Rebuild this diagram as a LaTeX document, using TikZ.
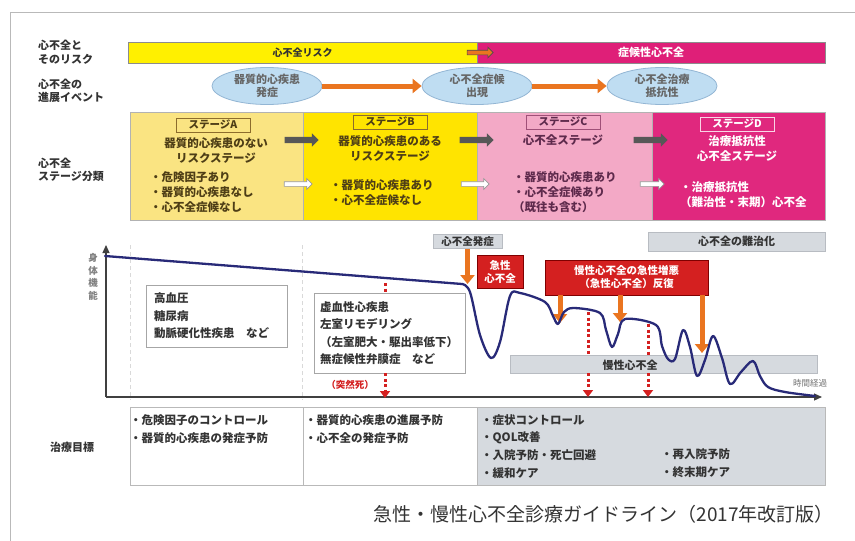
\documentclass[tikz,border=0pt]{standalone}
\usepackage{fontspec}
\setmainfont{Noto Sans CJK JP}
\usetikzlibrary{shapes.geometric,shapes.arrows,arrows.meta}
\definecolor{txt}{HTML}{333333}
\definecolor{barY}{HTML}{FFF000}
\definecolor{barM}{HTML}{DF1F78}
\definecolor{stA}{HTML}{FAE482}
\definecolor{stB}{HTML}{FFE400}
\definecolor{stC}{HTML}{F3A9C6}
\definecolor{stD}{HTML}{E0287E}
\definecolor{ellF}{HTML}{BFDDF2}
\definecolor{ellD}{HTML}{93B6D4}
\definecolor{orng}{HTML}{EA7520}
\definecolor{darkarr}{HTML}{575757}
\definecolor{brn}{HTML}{4E3E16}
\definecolor{brnbox}{HTML}{8C6C2C}
\definecolor{pur}{HTML}{5E2A4C}
\definecolor{purbox}{HTML}{A05078}
\definecolor{navy}{HTML}{282A78}
\definecolor{redb}{HTML}{D42020}
\definecolor{gfill}{HTML}{D6DADF}
\definecolor{gline}{HTML}{B8BCC2}
\begin{document}
\begin{tikzpicture}[x=1pt,y=-1pt,
  every node/.style={inner sep=0pt, text=txt},
  fs/.style 2 args={font=\fontsize{#1}{#2}\selectfont\bfseries},
  rowlab/.style={anchor=west, align=left, fs={11}{13.5}},
  topbar/.style={rectangle, draw=black!45, line width=0.8pt, minimum height=21pt, fs={11}{12}},
  ell/.style={ellipse, fill=ellF, draw=ellD, line width=0.8pt, minimum width=110pt, minimum height=37pt, align=center, text=black!60, fs={11}{13}},
  oarrow/.style={draw=orng, line width=5pt, -{Triangle[length=9pt,width=14pt]}},
  stagebox/.style={rectangle, draw=gray!60, line width=0.8pt, minimum height=108pt},
  stitle/.style={rectangle, line width=0.8pt, minimum width=74pt, minimum height=14pt, fs={10.5}{12}},
  stext/.style={align=center, fs={11.5}{15}},
  sbul/.style={anchor=west, align=left, fs={11.5}{14.8}},
  darr/.style={single arrow, fill=darkarr, minimum height=34pt, inner sep=3pt, single arrow head extend=3.5pt},
  warr/.style={single arrow, fill=white, draw=gray!80, line width=0.7pt, minimum height=28pt, inner sep=2pt, single arrow head extend=3pt},
  axisline/.style={draw=black!75, line width=1.2pt, -{Triangle[length=8pt,width=7pt]}},
  guide/.style={draw=gray!30, line width=1pt, dash pattern=on 4pt off 3pt},
  gbox/.style={rectangle, draw=gray!70, fill=white, line width=0.8pt, align=left, fs={11.5}{17.5}},
  glabel/.style={rectangle, fill=gfill, draw=gline, line width=0.6pt, fs={10.5}{12}},
  rbox/.style={rectangle, fill=redb, draw=red!50!black, line width=0.6pt, text=white, align=center, fs={10.5}{13}},
  odown/.style={draw=orng, line width=5pt, -{Triangle[length=9pt,width=14pt]}},
  reddot/.style={draw=redb, line width=3pt, dash pattern=on 3pt off 2.5pt},
  reddotarr/.style={reddot, -{Triangle[length=7pt,width=10pt]}},
  curve/.style={draw=navy, line width=2.3pt, line cap=round, line join=round},
  tcell/.style={rectangle, draw=gray!55, line width=0.8pt, minimum height=78pt},
  ttext/.style={anchor=west, align=left, fs={11.5}{17.8}}
]
\useasboundingbox (0,0) rectangle (855,541);
\fill[white] (0,0) rectangle (855,541);
\draw[gray!55, line width=1pt] (10,541) -- (10,12) -- (855,12);

% row labels
\node[rowlab] (lab1) at (38,52) {心不全と\\そのリスク};
\node[rowlab] (lab2) at (38,91) {心不全の\\進展イベント};
\node[rowlab] (lab3) at (38,170) {心不全\\ステージ分類};
\node[rowlab] (lab4) at (50,447) {治療目標};

% top bars
\node[topbar, fill=barY, minimum width=349pt, fs={10}{12}] (riskbar) at (302.5,52.5) {心不全リスク};
\node[topbar, fill=barM, minimum width=348pt, text=white] (symbar) at (651,52.5) {症候性心不全};
\node[single arrow, fill=orng, draw=black!70, line width=0.6pt, minimum height=26pt, single arrow head extend=3pt, inner sep=2pt] (jarr) at (479,52.5) {};

% events
\node[ell] (e1) at (267,86) {器質的心疾患\\発症};
\node[ell] (e2) at (477,86) {心不全症候\\出現};
\node[ell] (e3) at (662,86) {心不全治療\\抵抗性};
\draw[oarrow] (e1) -- (e2);
\draw[oarrow] (e2) -- (e3);

% stages
\node[stagebox, fill=stA, minimum width=173pt] (sA) at (216.5,166) {};
\node[stagebox, fill=stB, minimum width=174pt] (sB) at (390,166) {};
\node[stagebox, fill=stC, minimum width=175pt] (sC) at (564.5,166) {};
\node[stagebox, fill=stD, minimum width=173pt] (sD) at (738.5,166) {};

\node[stitle, draw=brnbox, text=brn] (tA) at (213,125) {ステージA};
\node[stitle, draw=brnbox, text=brn] (tB) at (390,122) {ステージB};
\node[stitle, draw=purbox, text=pur] (tC) at (563,122) {ステージC};
\node[stitle, draw=white!80!stD, text=white] (tD) at (737,124) {ステージD};

\node[stext, text=brn] (hA) at (216,150.5) {器質的心疾患のない\\リスクステージ};
\node[stext, text=brn] (hB) at (390,149) {器質的心疾患のある\\リスクステージ};
\node[stext, text=pur] (hC) at (563,140) {心不全ステージ};
\node[stext, text=white] (hD) at (737,149) {治療抵抗性\\心不全ステージ};

\node[sbul, text=brn] (bA) at (150,192) {・危険因子あり\\・器質的心疾患なし\\・心不全症候なし};
\node[sbul, text=brn] (bB) at (330,193) {・器質的心疾患あり\\・心不全症候なし};
\node[sbul, text=pur] (bC) at (513,192) {・器質的心疾患あり\\・心不全症候あり\\（既往も含む）};
\node[sbul, text=white] (bD) at (680,194.5) {・治療抵抗性\\（難治性・末期）心不全};

\node[darr] (dAB) at (300,140) {};
\node[darr] (dBC) at (475,140) {};
\node[darr] (dCD) at (649,140) {};
\node[warr] (wAB) at (297,184) {};
\node[warr] (wBC) at (474,184) {};
\node[warr, minimum height=24pt] (wCD) at (651,184) {};

% graph
\coordinate (O) at (106,397);
\coordinate (Ytop) at (106,245);
\coordinate (Xend) at (822,397);
\draw[guide] (130,245) -- (130,400);
\draw[guide] (302,245) -- (302,400);
\draw[axisline] (O) -- (Ytop);
\draw[axisline] (O) -- (Xend);
\node[align=center, font=\fontsize{9.5}{12.5}\selectfont\bfseries, text=black!50] (ylab) at (93,277) {身\\体\\機\\能};
\node[font=\fontsize{8.5}{10}\selectfont, text=black!55] (xlab) at (810,383) {時間経過};

\node[gbox, text width=125pt, minimum height=62pt, inner xsep=8pt] (hbox) at (216.5,316) {高血圧\\糖尿病\\動脈硬化性疾患　など};
\node[gbox, text width=139pt, minimum height=80pt, inner xsep=6pt] (mbox) at (389.5,333) {虚血性心疾患\\左室リモデリング\\（左室肥大・駆出率低下）\\無症候性弁膜症　など};

% sudden death arrows
\coordinate (r1t) at (385,283);
\coordinate (r1b) at (385,398);
\draw[reddot] (r1t) -- (r1t |- mbox.north);
\draw[reddotarr] (r1t |- mbox.south) -- (r1b);
\node[text=redb, fs={9.5}{11}] (sd) at (350,385) {（突然死）};

% labels and orange arrows
\node[glabel, minimum width=69pt, minimum height=14pt] (onset) at (467.5,241.5) {心不全発症};
\coordinate (onsetpt) at (467.5,284);
\draw[odown] (onset) -- (onsetpt);
\node[rbox, minimum width=46pt, minimum height=33pt] (acute) at (500,271.5) {急性\\心不全};
\node[rbox, minimum width=163pt, minimum height=35pt] (repeat) at (626.5,277.5) {慢性心不全の急性増悪\\（急性心不全）反復};
\coordinate (rp1) at (560,323);
\coordinate (rp2) at (620,322);
\coordinate (rp3) at (702,353);
\draw[odown] (repeat.south -| rp1) -- (rp1);
\draw[odown] (repeat.south -| rp2) -- (rp2);
\draw[odown] (repeat.south -| rp3) -- (rp3);
\node[glabel, minimum width=177pt, minimum height=19pt, fs={11}{12}] (refract) at (736.5,241.5) {心不全の難治化};

% chronic box + dotted arrows
\coordinate (r2t) at (588,312);
\coordinate (r2b) at (588,397);
\coordinate (r3t) at (648,324);
\coordinate (r3b) at (648,397);
\node[glabel, minimum width=307pt, minimum height=18pt] (chron) at (663.5,364) {};
\draw[reddot] (r2t) -- (r2t |- chron.north);
\draw[reddotarr] (r2t |- chron.south) -- (r2b);
\draw[reddot] (r3t) -- (r3t |- chron.north);
\draw[reddotarr] (r3t |- chron.south) -- (r3b);
\node[fs={11}{12}] (chrtxt) at (630,365) {慢性心不全};

% curve
\draw[curve] (105,256) -- (462,284);
\draw[curve] plot[smooth, tension=0.55] coordinates {(462,284) (470,292) (480,335) (491,358) (500,342) (510,296) (520,293) (545,302) (553,316) (558,324) (564,312) (574,308) (600,313) (606,330) (612,347) (618,334) (625,319) (656,325) (662,346) (668,359) (675,359) (683,330) (690,347) (697,376) (705,360) (713,336) (722,358) (730,384) (741,372) (753,361) (760,376) (768,387) (785,392) (815,396)};

% goals table
\node[tcell, minimum width=173pt] (t1) at (216.5,446) {};
\node[tcell, minimum width=174pt] (t2) at (390,446) {};
\node[tcell, minimum width=348pt, fill=gfill] (t3) at (651,446) {};
\node[ttext] (t1a) at (130,429) {・危険因子のコントロール\\・器質的心疾患の発症予防};
\node[ttext] (t2a) at (305,429) {・器質的心疾患の進展予防\\・心不全の発症予防};
\node[ttext] (t3a) at (481,446.5) {・症状コントロール\\・QOL改善\\・入院予防・死亡回避\\・緩和ケア};
\node[ttext] (t3b) at (661,463.5) {・再入院予防\\・終末期ケア};

% caption
\node[anchor=east, font=\fontsize{19}{22}\selectfont, text=black!80] (cap) at (834,514) {急性・慢性心不全診療ガイドライン（2017年改訂版）};
\end{tikzpicture}
\end{document}
